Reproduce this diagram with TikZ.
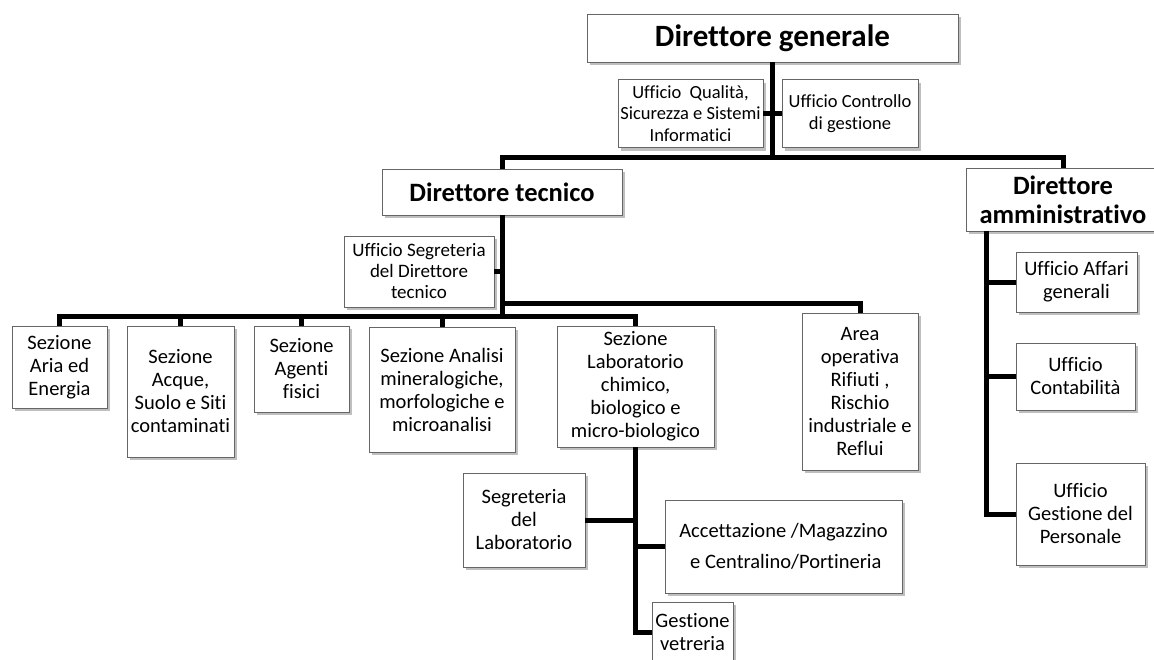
\documentclass[tikz,border=0pt]{standalone}
\usepackage{fontspec}
\setmainfont{Carlito}[Ligatures={NoCommon}]
\usetikzlibrary{shadows}
\newcommand\fsec{\fontsize{20.5}{23}\selectfont}
\newcommand\fsml{\fontsize{18.5}{21.5}\selectfont}
\newcommand\fseg{\fontsize{19}{21}\selectfont}
\newcommand\fbig{\fontsize{31}{36}\selectfont\bfseries}
\newcommand\fmid{\fontsize{26.5}{29}\selectfont\bfseries}
\tikzset{
  box/.style={draw=black!60, line width=0.8pt, fill=white, align=center, inner sep=0pt,
    drop shadow={shadow xshift=2.5pt, shadow yshift=-3pt, fill=black!50, opacity=0.5}},
  conn/.style={line width=5pt, draw=black}
}
\begin{document}
\begin{tikzpicture}[x=1pt,y=-1pt]
\useasboundingbox (0,0) rectangle (1154,659);
\clip (0,0) rectangle (1154,659);
\fill[white] (0,0) rectangle (1154,659);
\coordinate (hy) at (0,157);
\coordinate (ly) at (0,316);
\coordinate (uy) at (0,303);
% top
\node[box, font=\fbig, minimum width=371pt, minimum height=48pt] (dg) at (772.5,38) {Direttore generale};
\node[box, font=\fsml, minimum width=145pt, minimum height=68pt] (uq) at (690.5,113.5) {Ufficio~~Qualità,\\Sicurezza e Sistemi\\Informatici};
\node[box, font=\fsml, minimum width=136pt, minimum height=68pt] (uc) at (850,113.5) {Ufficio Controllo\\di gestione};
\node[box, font=\fmid, minimum width=240pt, minimum height=46pt] (dt) at (502,192) {Direttore tecnico};
\node[box, font=\fmid, minimum width=194pt, minimum height=63pt] (da) at (1063,199.5) {Direttore\\amministrativo};
\node[box, font=\fseg, minimum width=150pt, minimum height=71pt] (us) at (419,271.5) {Ufficio Segreteria\\del Direttore\\tecnico};
% sections
\node[box, font=\fsec, minimum width=95pt, minimum height=82pt] (s1) at (59.5,367) {Sezione\\Aria ed\\Energia};
\node[box, font=\fsec, minimum width=107pt, minimum height=131pt] (s2) at (180.5,391.5) {Sezione\\Acque,\\Suolo e Siti\\contaminati};
\node[box, font=\fsec, minimum width=95pt, minimum height=86pt] (s3) at (301.5,369) {Sezione\\Agenti\\fisici};
\node[box, font=\fsec, minimum width=146pt, minimum height=125pt] (s4) at (442,389.5) {Sezione Analisi\\mineralogiche,\\morfologiche e\\microanalisi};
\node[box, font=\fsec, minimum width=157pt, minimum height=121pt] (s5) at (635.5,386.5) {Sezione\\Laboratorio\\chimico,\\biologico e\\micro-biologico};
\node[box, font=\fsec, minimum width=116pt, minimum height=157pt] (ar) at (860,391.5) {Area\\operativa\\Rifiuti ,\\Rischio\\industriale e\\Reflui};
% lab
\node[box, font=\fsec, minimum width=122pt, minimum height=94pt] (sl) at (524,520) {Segreteria\\del\\Laboratorio};
\node[box, font=\fsec, minimum width=237pt, minimum height=93pt] (acc) at (783.5,546.5) {Accettazione /Magazzino\\[8pt]\ e Centralino/Portineria};
\node[box, font=\fsec, minimum width=81pt, minimum height=60pt] (gv) at (692.5,632) {Gestione\\vetreria};
% admin
\node[box, font=\fsec, minimum width=121pt, minimum height=60pt] (ua) at (1076.5,282) {Ufficio Affari\\generali};
\node[box, font=\fsec, minimum width=119pt, minimum height=67pt] (uco) at (1075.5,376.5) {Ufficio\\Contabilità};
\node[box, font=\fsec, minimum width=129pt, minimum height=102pt] (ugp) at (1080.5,514) {Ufficio\\Gestione del\\Personale};
\coordinate (dtr) at (986,231);
% connectors
\draw[conn] (dg.south) -- (dg.south |- hy);
\draw[conn] (dt.north) -- (dt.north |- hy) -- (da.north |- hy) -- (da.north);
\draw[conn] (uq.east) -- (uc.west);
\draw[conn] (dt.south) -- (dt.south |- ly);
\draw[conn] (us.east) -- (us.east -| dt.south);
\draw[conn] (s1.north) -- (s1.north |- ly) -- (s5.north |- ly) -- (s5.north);
\draw[conn] (s2.north) -- (s2.north |- ly);
\draw[conn] (s3.north) -- (s3.north |- ly);
\draw[conn] (s4.north) -- (s4.north |- ly);
\draw[conn] (dt.south |- ly) -- (dt.south |- uy) -- (ar.north |- uy) -- (ar.north);
\draw[conn] (s5.south) -- (s5.south |- gv.west) -- (gv.west);
\draw[conn] (sl.east) -- (sl.east -| s5.south);
\draw[conn] (acc.west) -- (acc.west -| s5.south);
\draw[conn] (dtr) -- (dtr |- ugp.west) -- (ugp.west);
\draw[conn] (ua.west) -- (ua.west -| dtr);
\draw[conn] (uco.west) -- (uco.west -| dtr);
\end{tikzpicture}
\end{document}
